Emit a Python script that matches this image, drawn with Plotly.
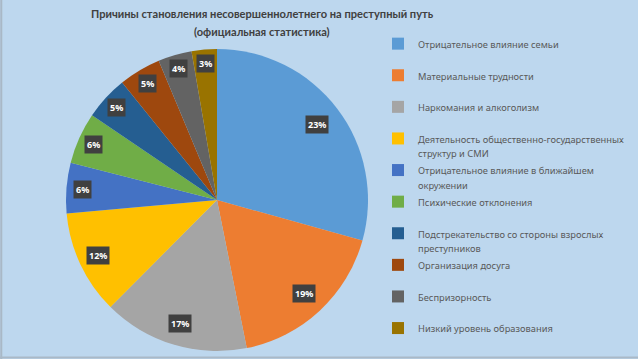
import math
import plotly.graph_objects as go

# ---- data ----
categories = [
    "Отрицательное влияние семьи",
    "Материальные трудности",
    "Наркомания и алкоголизм",
    "Деятельность общественно-государственных<br>структур и СМИ",
    "Отрицательное влияние в ближайшем<br>окружении",
    "Психические отклонения",
    "Подстрекательство со стороны взрослых<br>преступников",
    "Организация досуга",
    "Беспризорность",
    "Низкий уровень образования",
]
# slice sizes as drawn (share of the circle, %)
slice_values = [29.3, 17.5, 15.6, 11.1, 5.4, 5.5, 4.7, 4.5, 3.6, 2.7]
# percentages printed on the slices
label_pct = [23, 19, 17, 12, 6, 6, 5, 5, 4, 3]

title_lines = ["Причины становления несовершеннолетнего на преступный путь",
               "(официальная статистика)"]

colors = ["#5B9BD5", "#ED7D31", "#A5A5A5", "#FFC000", "#4472C4",
          "#70AD47", "#255E91", "#9E480E", "#636363", "#997300"]

W, H = 638, 359
BG = "#BDD7EE"
FONT = "Noto Sans, sans-serif"
TITLE_FONT = "Lato, Noto Sans, sans-serif"

# pie geometry (pixels)
cx, cy, R = 217, 200, 151

def legend_text(s):
    lines = s.split("<br>")
    if len(lines) == 1:
        lines.append("&nbsp;")
    return "<br>".join(f"<span style='font-size:9.3px'>{l}</span>" for l in lines)

fig = go.Figure()
fig.add_trace(go.Pie(
    labels=[legend_text(c) for c in categories],
    values=slice_values,
    sort=False,
    direction="clockwise",
    rotation=0,
    marker=dict(colors=colors, line=dict(width=0)),
    textinfo="none",
    hoverinfo="label+percent",
    domain=dict(x=[(cx - R) / W, (cx + R) / W],
                y=[(H - cy - R) / H, (H - cy + R) / H]),
))

# data labels, positioned from the slice angles
total = sum(slice_values)
cum = 0.0
annotations = []
for v, p in zip(slice_values, label_pct):
    mid = (cum + v / 2) / total * 2 * math.pi
    cum += v
    rf = 0.92 - 0.4 * p / 100
    px = cx + rf * R * math.sin(mid)
    py = cy - rf * R * math.cos(mid)
    annotations.append(dict(
        x=px / W, y=1 - py / H, xref="paper", yref="paper",
        text=f"<b>{p}%</b>", showarrow=False,
        font=dict(family=FONT, size=9, color="#FFFFFF"),
        bgcolor="#404040", borderpad=2,
        xanchor="center", yanchor="middle",
    ))

for line, ty in zip(title_lines, [14, 32]):
    annotations.append(dict(
        x=262 / W, y=1 - ty / H, xref="paper", yref="paper",
        xanchor="center", yanchor="middle", showarrow=False,
        text=f"<b>{line}</b>",
        font=dict(family=TITLE_FONT, size=11.1, color="#404040"),
    ))

fig.update_layout(
    width=W, height=H,
    margin=dict(l=0, r=0, t=0, b=0, autoexpand=False),
    paper_bgcolor=BG,
    plot_bgcolor=BG,
    showlegend=True,
    legend=dict(
        x=378 / W, xanchor="left", y=1 - 30 / H, yanchor="top",
        font=dict(family=FONT, size=11, color="#595959"),
        bgcolor="rgba(0,0,0,0)", valign="top",
        traceorder="normal",
    ),
    annotations=annotations,
    shapes=[
        dict(type="line", xref="paper", yref="paper", x0=0.002, x1=0.002, y0=0, y1=1,
             line=dict(color="#A9B8C6", width=2)),
        dict(type="line", xref="paper", yref="paper", x0=0, x1=1, y0=0.004, y1=0.004,
             line=dict(color="#AAB9C7", width=2)),
    ],
)

fig.write_html(
    "out.html",
    config={"displayModeBar": False},
    post_script="document.body.style.margin='0';document.body.style.overflow='hidden';",
)
